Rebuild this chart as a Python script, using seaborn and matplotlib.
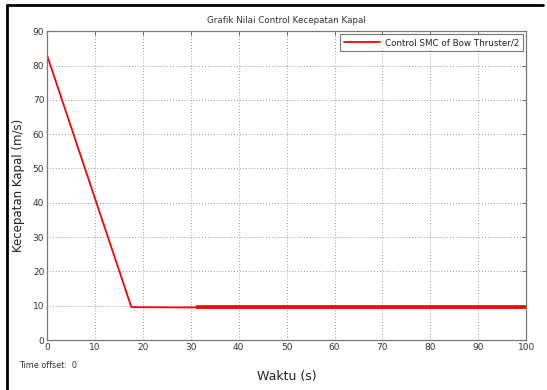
import matplotlib
matplotlib.use("Agg")
import matplotlib.pyplot as plt
from matplotlib.lines import Line2D
import seaborn as sns
import pandas as pd

# Control signal of the bow thruster (SMC), seconds vs m/s
waktu = [0, 17.6, 31, 100]
kecepatan = [83.0, 9.6, 9.5, 9.5]
# steady-state part with chattering (drawn thicker)
waktu_chatter = [31, 100]
kecepatan_chatter = [9.5, 9.5]

x_ticks = [0, 10, 20, 30, 40, 50, 60, 70, 80, 90, 100]
y_ticks = [0, 10, 20, 30, 40, 50, 60, 70, 80, 90]

sns.set_theme(style="white")
plt.rcParams["font.family"] = ["DejaVu Sans"]

df = pd.DataFrame({"Waktu": waktu, "Kecepatan": kecepatan})
df_ch = pd.DataFrame({"Waktu": waktu_chatter, "Kecepatan": kecepatan_chatter})

fig = plt.figure(figsize=(5.47, 3.90), dpi=100)
ax = fig.add_axes([0.086, 0.128, 0.876, 0.792])

sns.lineplot(data=df, x="Waktu", y="Kecepatan", ax=ax, color="#ff0000",
             linewidth=1.3, label="Control SMC of Bow Thruster/2")
sns.lineplot(data=df_ch, x="Waktu", y="Kecepatan", ax=ax, color="#ff0000",
             linewidth=2.6, legend=False, solid_capstyle="butt")

ax.set_xlim(0, 100)
ax.set_ylim(0, 90)
ax.set_xticks(x_ticks)
ax.set_yticks(y_ticks)
ax.tick_params(direction="in", length=3, width=0.6, colors="#555555",
               labelsize=6.5, labelcolor="#333333", top=True, right=True,
               pad=2)
ax.grid(True, linestyle=(0, (1, 2.5)), color="#777777", linewidth=0.6)
for s in ax.spines.values():
    s.set_color("#777777")
    s.set_linewidth(0.9)

ax.set_title("Grafik Nilai Control Kecepatan Kapal", fontsize=6.3,
             color="#333333", pad=6)
ax.set_xlabel("Waktu (s)", fontsize=9, color="#222222")
ax.set_ylabel("Kecepatan Kapal (m/s)", fontsize=8.5, color="#222222")
ax.xaxis.set_label_coords(0.5, -0.097)
ax.yaxis.set_label_coords(-0.045, 0.5)

leg = ax.legend(loc="upper right", fontsize=6.3, frameon=True,
                fancybox=False, borderpad=0.45, handlelength=4.2,
                borderaxespad=0.35, handletextpad=0.5)
leg.get_frame().set_edgecolor("#555555")
leg.get_frame().set_linewidth(0.8)
for t in leg.get_texts():
    t.set_color("#222222")

fig.text(0.034, 0.056, "Time offset:  0", fontsize=5.8, color="#333333")

# outer window frame (top and left edges)
fig.add_artist(Line2D([0.012, 0.993], [0.987, 0.987], color="black",
                      linewidth=2.0, transform=fig.transFigure))
fig.add_artist(Line2D([0.013, 0.013], [0.0, 0.987], color="black",
                      linewidth=2.0, transform=fig.transFigure))

fig.savefig("out.png", dpi=100)
